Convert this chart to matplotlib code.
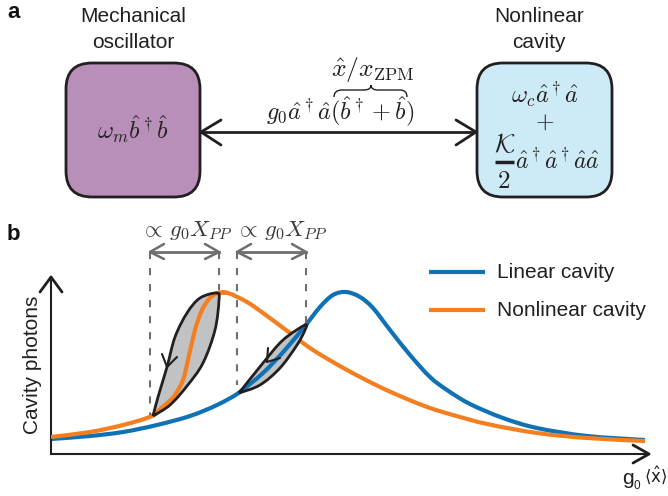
import numpy as np
import matplotlib
matplotlib.use('Agg')
import matplotlib.pyplot as plt
from matplotlib.patches import FancyBboxPatch, PathPatch
from matplotlib.path import Path

plt.rcParams['font.family'] = ['Liberation Sans', 'DejaVu Sans']
plt.rcParams['mathtext.fontset'] = 'cm'

# curves (picture pixels)
blue_x = [51, 90, 123, 157, 190, 217, 240, 263, 285, 305, 320, 333, 346, 360, 373, 390,
          410, 430, 447, 470, 503, 537, 587, 645]
blue_y = [439, 436, 432, 425, 416, 405, 392, 373, 350, 326, 307, 295, 292, 297, 308, 330,
          355, 377, 390, 404, 418, 428, 436, 440]
orange_x = [51, 90, 123, 152, 165, 175, 183, 188, 195, 202, 210, 218, 228, 247, 263, 290, 313,
            347, 380, 407, 430, 453, 487, 537, 587, 645]
orange_y = [437, 432, 425, 416, 405, 395, 380, 360, 330, 310, 298, 293, 293, 302, 313, 333, 350,
            370, 387, 399, 408, 415, 424, 433, 438, 441]
loop1_x = [153, 158, 167, 175, 187, 200, 217, 219, 215, 203, 187, 170, 153]
loop1_y = [416, 397, 367, 337, 313, 298, 293, 300, 330, 363, 386, 405, 416]
loop2_x = [239, 263, 283, 305, 305, 297, 280, 260, 239]
loop2_y = [393, 363, 340, 325, 330, 345, 368, 385, 393]

blue = '#0f72b5'
orange = '#f47f20'
dark = '#231f20'
grey = '#6d6e70'
fill_grey = '#c0c2c4'


def smooth(x, y):
    # bezier path through the read points, so the curves are not faceted
    p = np.column_stack([x, y]).astype(float)
    q = np.vstack([p[0], p, p[-1]])
    verts = [p[0]]
    codes = [Path.MOVETO]
    for i in range(1, len(q) - 2):
        verts += [q[i] + (q[i + 1] - q[i - 1]) / 6, q[i + 1] - (q[i + 2] - q[i]) / 6, q[i + 1]]
        codes += [Path.CURVE4] * 3
    return Path(verts, codes)


def curve(a, x, y, c, lw, z=2):
    a.add_patch(PathPatch(smooth(x, y), fc='none', ec=c, lw=lw, zorder=z, joinstyle='round', capstyle='butt'))


fig = plt.figure(figsize=(6.68, 4.96), dpi=100)

# overlay in picture pixels for the diagram and all the text
ax = fig.add_axes([0, 0, 1, 1])
ax.set_xlim(0, 668)
ax.set_ylim(496, 0)
ax.axis('off')


def px(x, y, **kw):
    ax.plot(x, y, solid_capstyle='round', solid_joinstyle='round', **kw)


def chev(tip, a, b, c=dark, lw=2.0):
    px([a[0], tip[0], b[0]], [a[1], tip[1], b[1]], c=c, lw=lw)


def box(x0, y0, x1, y1, fc):
    ax.add_patch(FancyBboxPatch((x0 + 26, y0 + 26), x1 - x0 - 52, y1 - y0 - 52,
                                boxstyle='round,pad=26,rounding_size=26', fc=fc, ec=dark, lw=2.0))


# panel a
box(66, 63, 200, 197, '#b78fb8')
box(477, 63, 612, 197, '#cdeaf7')

px([201, 476], [132, 132], c=dark, lw=2.0)
chev((201, 132), (221, 120), (221, 145))
chev((476, 132), (456, 120), (456, 145))

brace = Path([(334, 97), (334, 90), (342, 90), (364, 90), (371, 90), (371, 85),
              (371, 90), (378, 90), (400, 90), (407, 90), (407, 97)],
             [Path.MOVETO, Path.CURVE3, Path.CURVE3, Path.LINETO, Path.CURVE3, Path.CURVE3,
              Path.CURVE3, Path.CURVE3, Path.LINETO, Path.CURVE3, Path.CURVE3])
ax.add_patch(PathPatch(brace, fc='none', ec=dark, lw=1.0))

ax.text(7, 12, 'a', fontsize=16, fontweight='bold', color='#111111', ha='left', va='center')
ax.text(7, 234, 'b', fontsize=16, fontweight='bold', color='#111111', ha='left', va='center')
ax.text(133, 16, 'Mechanical', fontsize=15, color=dark, ha='center', va='center')
ax.text(133, 42, 'oscillator', fontsize=15, color=dark, ha='center', va='center')
ax.text(539, 16, 'Nonlinear', fontsize=15, color=dark, ha='center', va='center')
ax.text(539, 42, 'cavity', fontsize=15, color=dark, ha='center', va='center')

ax.text(133, 129, r'$\omega_m\hat{b}^\dagger\hat{b}$', fontsize=17.5, color=dark, ha='center', va='center')
ax.text(373, 70, r'$\hat{x}/x_{\mathrm{ZPM}}$', fontsize=18.5, color=dark, ha='center', va='center')
ax.text(340, 111, r'$g_0\hat{a}^\dagger\hat{a}(\hat{b}^\dagger+\hat{b})$', fontsize=17.5, color=dark,
        ha='center', va='center')
ax.text(545, 95, r'$\omega_c\hat{a}^\dagger\hat{a}$', fontsize=17.5, color=dark, ha='center', va='center')
ax.text(545, 123, r'$+$', fontsize=17, color=dark, ha='center', va='center')
ax.text(505, 145, r'$\mathcal{K}$', fontsize=19, color=dark, ha='center', va='center')
ax.plot([495, 514], [162, 162], c=dark, lw=2.5, solid_capstyle='butt')
ax.text(504, 181, r'$2$', fontsize=18, color=dark, ha='center', va='center')
ax.text(557, 160, r'$\hat{a}^\dagger\hat{a}^\dagger\hat{a}\hat{a}$', fontsize=17, color=dark,
        ha='center', va='center')

# panel b
ax2 = fig.add_axes([51 / 668, 1 - 454 / 496, 598 / 668, 177 / 496])
ax2.patch.set_visible(False)
ax2.set_xlim(51, 649)
ax2.set_ylim(454, 277)
ax2.spines[['top', 'right']].set_visible(False)
ax2.spines[['left', 'bottom']].set_color(dark)
ax2.spines[['left', 'bottom']].set_linewidth(1.5)
ax2.set_xticks([])
ax2.set_yticks([])

curve(ax2, blue_x, blue_y, blue, 3.0)
curve(ax2, orange_x, orange_y, orange, 3.0, z=3)

ax2.add_patch(PathPatch(smooth(loop1_x, loop1_y), fc=fill_grey, ec='none', zorder=4))
curve(ax2, orange_x[3:13], orange_y[3:13], orange, 3.0, z=5)
curve(ax2, loop1_x, loop1_y, dark, 2.0, z=6)

ax2.add_patch(PathPatch(smooth(loop2_x, loop2_y), fc=fill_grey, ec='none', zorder=4))
curve(ax2, blue_x[6:10], blue_y[6:10], blue, 3.0, z=5)
curve(ax2, loop2_x, loop2_y, dark, 2.0, z=6)

# everything below sits on top of the chart axes
ax.set_zorder(2)
ax.patch.set_visible(False)

chev((167, 367), (162, 354), (177, 357), lw=1.5)
chev((267, 362), (268, 348), (280, 358), lw=1.5)

for xd, yb in [(150, 415), (219, 290), (237, 385), (306, 325)]:
    ax.plot([xd, xd], [252, yb], c=grey, lw=1.5, ls=(0, (3.4, 4.3)))

for x0, x1, xt in [(150, 219, 186), (237, 306, 281)]:
    ax.plot([x0, x1], [252, 252], c=grey, lw=2.0)
    chev((x0, 252), (x0 + 14, 244), (x0 + 14, 259), c=grey, lw=1.8)
    chev((x1, 252), (x1 - 14, 244), (x1 - 14, 259), c=grey, lw=1.8)
    ax.text(xt, 231, r'$\propto\, g_0 X_{PP}$', fontsize=16.5, color='#3a3a3c',
            ha='center', va='center')

chev((51, 277), (40, 292), (62, 292))
chev((649, 454), (633, 445), (633, 463))

ax.plot([429, 485], [272, 272], c=blue, lw=3.0, solid_capstyle='butt')
ax.plot([429, 485], [310, 310], c=orange, lw=3.0, solid_capstyle='butt')
ax.text(497, 272, 'Linear cavity', fontsize=15, color=dark, ha='left', va='center')
ax.text(497, 310, 'Nonlinear cavity', fontsize=15, color=dark, ha='left', va='center')

ax.text(33, 365, 'Cavity photons', fontsize=15, color=dark, rotation=90, ha='center', va='center')
ax.text(622, 478, 'g', fontsize=15, color=dark, ha='left', va='center')
ax.text(633, 486, '0', fontsize=8.5, color=dark, ha='left', va='center')
ax.text(656, 475, r'$\langle\hat{\mathrm{x}}\rangle$', fontsize=12, color=dark, ha='center', va='center',
        math_fontfamily='dejavusans')

fig.savefig('out.png', dpi=100)
